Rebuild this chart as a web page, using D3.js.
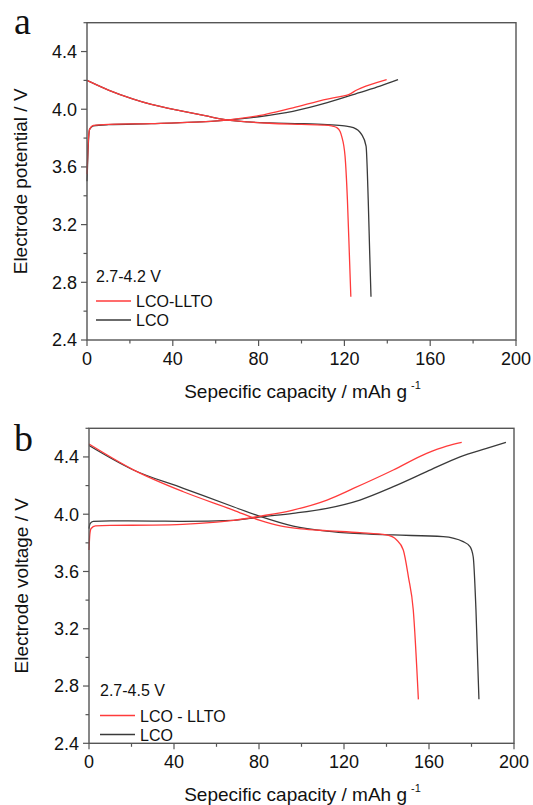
<!DOCTYPE html>
<html lang="en">
<head>
    <meta charset="UTF-8">
    <title>LCO vs LCO-LLTO charge/discharge</title>
    <style>
        body { margin: 0; background: #fff; }
        svg text { font-family: Arial, "Liberation Sans", sans-serif; fill: #111; }
        .frame { fill: none; stroke: #555; stroke-width: 1.4px; }
        .tick-line { stroke: #555; stroke-width: 1.2px; }
        .tick-label { font-size: 18px; }
        .axis-title { font-size: 19px; text-anchor: middle; }
        .legend-text { font-size: 16px; }
        .panel-label { font-family: "Liberation Serif", "Times New Roman", serif !important; font-size: 38px; }
        .curve { fill: none; stroke-width: 1.3px; }
    </style>
</head>
<body>
<svg id="chart" width="533" height="805"></svg>
<script src="https://d3js.org/d3.v7.min.js"></script>
<script>
// --- Data (capacity mAh/g, voltage V) ---
const xTicks = [0, 40, 80, 120, 160, 200];
const yTicks = [2.4, 2.8, 3.2, 3.6, 4.0, 4.4];

// panel a: 2.7-4.2 V
const aLltoCharge = [[0,3.55],[0.5,3.75],[1.2,3.86],[3,3.888],[10,3.895],[30,3.9],[50,3.91],[65,3.925],[80,3.955],[96,4.01],[112,4.07],[118,4.088],[122,4.102],[126,4.135],[130,4.16],[135,4.185],[139.7,4.205]];
const aLcoCharge = [[0,3.5],[0.5,3.72],[1.2,3.86],[3,3.885],[10,3.893],[30,3.9],[50,3.91],[65,3.925],[80,3.948],[96,3.985],[112,4.045],[127,4.115],[136.6,4.16],[145,4.205]];
const aLltoDischarge = [[0,4.2],[10,4.133],[21.6,4.07],[30,4.033],[45,3.985],[55,3.955],[65,3.926],[75,3.912],[85,3.903],[100,3.895],[110,3.89],[114,3.884],[116.4,3.873],[118,3.845],[118.7,3.814],[120.3,3.675],[121.4,3.374],[122.3,3.0],[123,2.7]];
const aLcoDischarge = [[0,4.2],[10,4.133],[21.6,4.07],[30,4.033],[45,3.985],[55,3.955],[65,3.926],[75,3.912],[85,3.905],[100,3.9],[112,3.893],[120,3.885],[124.2,3.873],[128,3.826],[130.1,3.745],[131.1,3.374],[131.8,3.0],[132.4,2.7]];

// panel b: 2.7-4.5 V
const bLltoCharge = [[0,3.75],[0.4,3.86],[1,3.9],[3,3.918],[10,3.922],[30,3.924],[44,3.929],[60,3.945],[68,3.957],[80,3.985],[96,4.029],[112,4.099],[124.4,4.18],[143.2,4.309],[158.9,4.425],[168.3,4.476],[175.4,4.502]];
const bLcoCharge = [[0,3.9],[0.5,3.935],[2,3.95],[10,3.953],[30,3.952],[44,3.95],[68,3.957],[80,3.98],[96,4.006],[112,4.041],[127.5,4.099],[143.2,4.192],[158.9,4.297],[174.6,4.401],[187.1,4.46],[196.2,4.502]];
const bLltoDischarge = [[0,4.49],[20.9,4.31],[44.4,4.157],[67.9,4.029],[80.5,3.957],[90,3.918],[100,3.897],[111.8,3.885],[127.5,3.871],[140,3.855],[144.8,3.82],[147.9,3.75],[150.3,3.563],[152.6,3.331],[155,2.707]];
const bLcoDischarge = [[0,4.48],[20.9,4.309],[44.4,4.181],[67.9,4.052],[80.5,3.985],[96.1,3.917],[111.8,3.882],[125,3.866],[143.2,3.855],[166.7,3.843],[176.1,3.808],[179.3,3.773],[180.8,3.703],[182.1,3.331],[183.5,2.707]];

const RED = "#ff3b3b", BLACK = "#3a3a3a";

const svg = d3.select("#chart");

function drawPanel(cfg) {
    const x = d3.scaleLinear().domain([0, 200]).range([cfg.left, cfg.right]);
    const y = d3.scaleLinear().domain([2.4, 4.6]).range([cfg.bottom, cfg.top]);
    const g = svg.append("g");

    // minor + major ticks (outward)
    d3.range(0, 201, 20).forEach(v => {
        const major = v % 40 === 0;
        g.append("line").attr("class", "tick-line")
            .attr("x1", x(v)).attr("x2", x(v))
            .attr("y1", cfg.bottom).attr("y2", cfg.bottom + (major ? 6 : 3.5));
    });
    d3.range(24, 47, 2).map(v => v / 10).filter(v => v <= 4.6).forEach((v, i) => {
        const major = i % 2 === 0;
        g.append("line").attr("class", "tick-line")
            .attr("x1", cfg.left).attr("x2", cfg.left - (major ? 6 : 3.5))
            .attr("y1", y(v)).attr("y2", y(v));
    });

    g.selectAll(".xl").data(xTicks).enter().append("text")
        .attr("class", "tick-label")
        .attr("x", d => x(d)).attr("y", cfg.bottom + 25)
        .attr("text-anchor", "middle")
        .text(d => d);
    g.selectAll(".yl").data(yTicks).enter().append("text")
        .attr("class", "tick-label")
        .attr("x", cfg.left - 10).attr("y", d => y(d))
        .attr("dy", "0.35em")
        .attr("text-anchor", "end")
        .text(d => d.toFixed(1));

    const line = d3.line().x(d => x(d[0])).y(d => y(d[1])).curve(d3.curveMonotoneX);
    cfg.series.forEach(s => {
        g.append("path").attr("class", "curve")
            .datum(s.data).attr("d", line).attr("stroke", s.color);
    });

    g.append("rect").attr("class", "frame")
        .attr("x", cfg.left).attr("y", cfg.top)
        .attr("width", cfg.right - cfg.left).attr("height", cfg.bottom - cfg.top);

    // axis titles
    const xt = g.append("text").attr("class", "axis-title")
        .attr("x", (cfg.left + cfg.right) / 2 + 1).attr("y", cfg.xTitleY);
    xt.append("tspan").text("Sepecific capacity / mAh g");
    xt.append("tspan").attr("dx", 4).attr("dy", -9).style("font-size", "11px").text("-1");

    g.append("text").attr("class", "axis-title")
        .attr("transform", `translate(${cfg.yTitleX},${(cfg.top + cfg.bottom) / 2}) rotate(-90)`)
        .text(cfg.yTitle);

    g.append("text").attr("class", "panel-label")
        .attr("x", 14).attr("y", cfg.labelY).text(cfg.label);

    // legend
    const lg = cfg.legend;
    g.append("text").attr("class", "legend-text")
        .attr("x", lg.x).attr("y", lg.y).text(lg.title);
    cfg.series.filter(s => s.name).forEach((s, i) => {
        const ly = lg.y + 19.5 + i * 19;
        g.append("line").attr("x1", lg.x).attr("x2", lg.x + 35)
            .attr("y1", ly).attr("y2", ly)
            .attr("stroke", s.color).attr("stroke-width", 1.3);
        g.append("text").attr("class", "legend-text")
            .attr("x", lg.x + 40).attr("y", ly + 6).text(s.name);
    });
}

drawPanel({
    left: 87, right: 516, top: 22.7, bottom: 340,
    xTitleY: 398, yTitleX: 27, labelY: 34, label: "a",
    yTitle: "Electrode potential / V",
    legend: { x: 96, y: 281.5, title: "2.7-4.2 V" },
    series: [
        { data: aLcoCharge, color: BLACK },
        { data: aLcoDischarge, color: BLACK },
        { data: aLltoCharge, color: RED },
        { data: aLltoDischarge, color: RED, name: "LCO-LLTO" },
        { data: [], color: BLACK, name: "LCO" }
    ]
});

drawPanel({
    left: 89, right: 514, top: 428.3, bottom: 743.3,
    xTitleY: 801, yTitleX: 28, labelY: 451, label: "b",
    yTitle: "Electrode voltage / V",
    legend: { x: 100, y: 696, title: "2.7-4.5 V" },
    series: [
        { data: bLcoCharge, color: BLACK },
        { data: bLcoDischarge, color: BLACK },
        { data: bLltoCharge, color: RED },
        { data: bLltoDischarge, color: RED, name: "LCO - LLTO" },
        { data: [], color: BLACK, name: "LCO" }
    ]
});
</script>
</body>
</html>
